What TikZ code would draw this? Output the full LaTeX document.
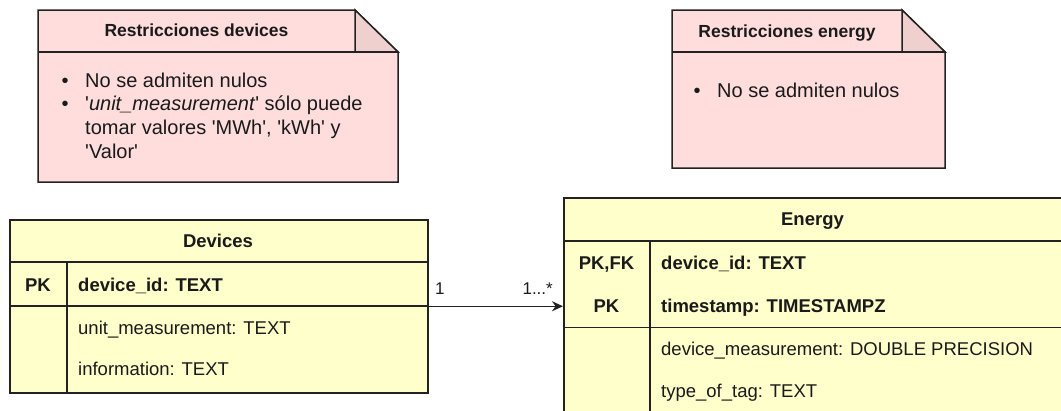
\documentclass[tikz,border=0pt]{standalone}
\usepackage{fontspec}
\setmainfont{Liberation Sans}
\usetikzlibrary{arrows.meta}
\definecolor{notefill}{HTML}{FFDDDD}
\definecolor{foldfill}{HTML}{F0D0CF}
\definecolor{tabfill}{HTML}{FFFFCC}
\definecolor{ink}{HTML}{222222}
\definecolor{txt}{HTML}{1A1A1A}
\newcommand{\sq}{\textquotesingle}
\tikzset{
  notebox/.style={draw=ink, fill=notefill, line width=1.5pt, line join=miter},
  foldbox/.style={draw=ink, fill=foldfill, line width=1.5pt},
  tabbox/.style={draw=ink, fill=tabfill, line width=1.5pt, rectangle, inner sep=0pt, anchor=north west},
  divline/.style={draw=ink, line width=1.5pt},
  notetitle/.style={font=\fontsize{17.5}{20}\selectfont\bfseries, text=txt, inner sep=0pt, anchor=base},
  notebody/.style={font=\fontsize{20}{23.6}\selectfont, text=txt, inner sep=0pt, anchor=base west},
  cellc/.style={font=\fontsize{18.5}{21}\selectfont\bfseries, text=txt, inner sep=0pt, anchor=base},
  cellb/.style={font=\fontsize{18.5}{21}\selectfont\bfseries, text=txt, inner sep=0pt, anchor=base west},
  cellt/.style={font=\fontsize{18.5}{21}\selectfont, text=txt, inner sep=0pt, anchor=base west},
  mult/.style={font=\fontsize{17}{20}\selectfont, text=txt, inner sep=0pt},
  relarrow/.style={draw=ink, line width=1.5pt, -{Stealth[length=11pt,width=10pt]}}
}
\begin{document}
\begin{tikzpicture}[x=1pt,y=-1pt]
\useasboundingbox (0,0) rectangle (1061,410);
\clip (0,0) rectangle (1061,410);
\fill[white] (0,0) rectangle (1061,410);

% Note 1
\path[notebox] (38,10) -- (355,10) -- (398,52) -- (398,182) -- (38,182) -- cycle;
\path[foldbox] (355,10) -- (398,52) -- (355,52) -- cycle;
\path[divline] (38,52) -- (398,52);
\node[notetitle] (n1title) at (196.5,36.7) {Restricciones devices};
\node[notebody] (n1body) at (61.5,87.3) {\begin{tabular}[t]{@{}l@{\hspace{16.5pt}}l@{}}
\textbullet & No se admiten nulos\\
\textbullet & \sq\textit{unit\_measurement}\sq{} sólo puede\\
 & tomar valores \sq MWh\sq, \sq kWh\sq{} y\\
 & \sq Valor\sq
\end{tabular}};

% Note 2
\path[notebox] (672,10) -- (902,10) -- (945,52) -- (945,168) -- (672,168) -- cycle;
\path[foldbox] (902,10) -- (945,52) -- (902,52) -- cycle;
\path[divline] (672,52) -- (945,52);
\node[notetitle] (n2title) at (787,37) {Restricciones energy};
\node[notebody] (n2body) at (693.5,97) {\begin{tabular}[t]{@{}l@{\hspace{16.5pt}}l@{}}
\textbullet & No se admiten nulos
\end{tabular}};

% Devices table
\node[tabbox, minimum width=418pt, minimum height=173pt] (devices) at (9,219) {};
\path[divline] (9,262) -- (427,262);
\path[divline] (9,306) -- (427,306);
\path[divline] (67,262) -- (67,392);
\node[cellc] (devtitle) at (218,247.5) {Devices};
\node[cellc] (devpk) at (38,291.5) {PK};
\node[cellb] (devid) at (78,291.5) {device\_id: TEXT};
\node[cellt] (devunit) at (78,334) {unit\_measurement: TEXT};
\node[cellt] (devinfo) at (78,375.5) {information: TEXT};

% Energy table
\node[tabbox, minimum width=500pt, minimum height=218pt] (energy) at (563,197) {};
\path[divline] (563,241) -- (1063,241);
\path[divline] (563,327.5) -- (1063,327.5);
\path[divline] (650,241) -- (650,415);
\node[cellc] (entitle) at (812.5,225.5) {Energy};
\node[cellc] (enpkfk) at (606.5,269.3) {PK,FK};
\node[cellc] (enpk) at (606.5,312.7) {PK};
\node[cellb] (enid) at (661,269.3) {device\_id: TEXT};
\node[cellb] (ents) at (661,312.7) {timestamp: TIMESTAMPZ};
\node[cellt] (enmeas) at (661,355) {device\_measurement: DOUBLE PRECISION};
\node[cellt] (entag) at (661,397) {type\_of\_tag: TEXT};

% Relation
\draw[relarrow] (devices.east) -- (devices.east -| energy.west);
\node[mult, anchor=base west] (mone) at (435,294) {1};
\node[mult, anchor=base east] (mmany) at (553,294) {1...*};
\end{tikzpicture}
\end{document}
